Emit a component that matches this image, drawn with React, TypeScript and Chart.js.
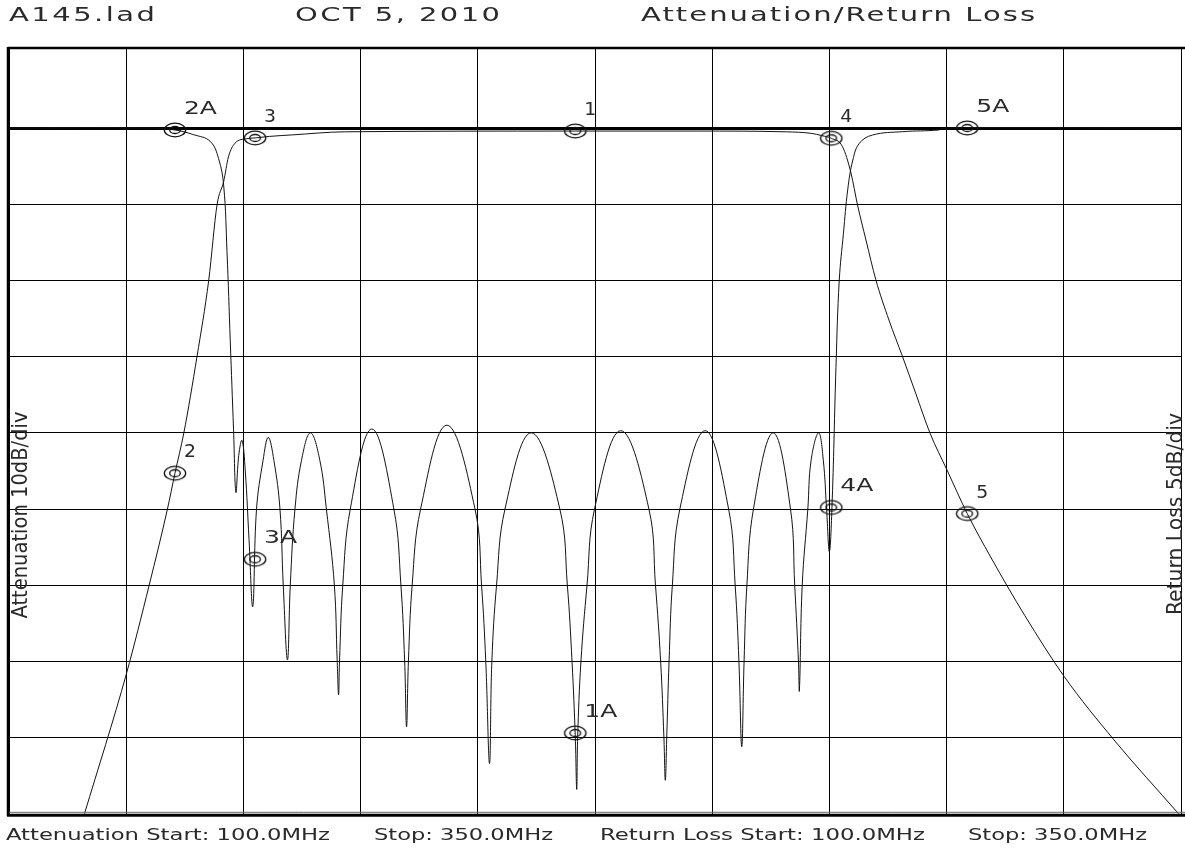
import React, { useEffect, useRef } from 'react';
import { Chart, registerables } from 'chart.js';

Chart.register(...registerables);

// ---------- data ----------
const xTicks = [100, 125, 150, 175, 200, 225, 250, 275, 300, 325, 350];
const rlTicks = [0, 5, 10, 15, 20, 25, 30, 35, 40];
const freqStart = 100;
const freqStop = 350;
const rlMin = -5.25;
const rlMax = 45;
const attMin = -10.5;
const attMax = 90;

// Return loss trace (MHz, dB)
const rlFreqs = [
  100, 129.8, 135.4, 139.4, 142.9, 144.7, 145.8, 146.5, 147.2, 147.9, 148.4, 149.0, 149.7, 150.4, 151.2, 152.0,
  152.8, 154.2, 155.3, 156.5, 157.8, 158.5, 159.4, 160.0, 161.0, 162.4, 164.3, 166.3, 167.7, 169.4, 170.0, 170.3,
  170.5, 171.2, 172.8, 177.4, 182.1, 183.6, 184.4, 184.8, 185.2, 186.0, 187.8, 193.4, 199.4, 200.8, 201.7, 202.5,
  203.0, 204.0, 205.8, 211.4, 217.5, 219.1, 220.1, 220.8, 221.1, 221.3, 222.0, 223.3, 224.9, 230.5, 236.5, 237.9,
  239.0, 239.7, 240.0, 240.3, 240.8, 241.5, 243.1, 248.5, 253.5, 254.9, 255.7, 256.3, 256.8, 257.4, 258.8, 263.0,
  266.7, 267.6, 268.4, 268.6, 269.2, 270.4, 271.1, 272.7, 273.7, 274.4, 275.0, 275.6, 276.4, 277.1, 278.0, 278.9,
  280.0, 281.4, 284.2, 290.6, 298.3, 299.3, 350,
];
const rlValues = [
  0, 0, 0.13, 0.44, 0.87, 2.0, 3.8, 8.1, 14, 19.8, 23.9, 21.5, 20.5, 22.5, 27, 31.4,
  25, 21.8, 20.3, 21.8, 25, 30, 34.9, 30, 25, 21.8, 20.0, 21.8, 25, 30, 34.9, 37.2,
  35, 30, 25, 19.75, 25, 30, 35, 39.3, 35, 30, 25, 19.5, 25, 30, 35, 41.7,
  35, 30, 25, 20.0, 25, 30, 35, 40, 43.4, 40, 35, 30, 25, 19.86, 25, 30,
  35, 40, 42.8, 40, 35, 30, 25, 19.86, 25, 30, 35, 40.6, 35, 30, 25, 20.0,
  25, 30, 35, 36.9, 30, 25, 21.8, 20.0, 21.8, 25, 27.8, 24.4, 15.7, 10, 6.9, 4.07,
  2.1, 1.0, 0.46, 0.24, 0.13, 0, 0,
];

// Attenuation trace (MHz, dB)
const attFreqs = [
  116.1, 125.1, 129.9, 133.8, 135.4, 137.3, 140.1, 142.6, 144.4, 145.8, 146.8, 148.2, 150.7, 152.5, 155.6, 160.5,
  171.5, 220.8, 246.8, 265.8, 271.1, 273.4, 275.4, 277.8, 279.6, 281.0, 282.8, 284.9, 287.7, 290.6, 293.4, 296.5,
  300.1, 304.4, 309.4, 316.7, 325.1, 335.7, 349.5,
];
const attValues = [
  90, 71.5, 60, 50, 45.3, 40, 30, 20, 10, 7, 3.8, 2.0, 1.4, 1.3, 1.1, 0.9,
  0.5, 0.4, 0.4, 0.5, 0.7, 1.0, 1.35, 2.45, 5.9, 10.1, 14.7, 19.9, 25.2, 30, 34.8, 40.1,
  44.9, 50.6, 56.3, 64, 72, 80.3, 90,
];

// Markers
const markerFreqs = [220.8, 135.4, 152.5, 275.4, 304.4];
const attMarkerValues = [0.4, 45.3, 1.3, 1.35, 50.6];
const rlMarkerValues = [39.7, 0.13, 28.3, 24.9, 0];
const attMarkerLabels = ['1', '2', '3', '4', '5'];
const rlMarkerLabels = ['1A', '2A', '3A', '4A', '5A'];

// Texts
const headerTexts = ['A145.lad', 'OCT 5, 2010', 'Attenuation/Return Loss'];
const footerTexts = ['Attenuation Start: 100.0MHz', 'Stop: 350.0MHz', 'Return Loss Start: 100.0MHz', 'Stop: 350.0MHz'];
const leftAxisTitle = 'Attenuation 10dB/div';
const rightAxisTitle = 'Return Loss 5dB/div';

// ---------- drawing helpers ----------
const TEXT_FONT = '"DejaVu Sans", "Liberation Sans", sans-serif';
const AXIS_FONT = '"DejaVu Sans Condensed", "Liberation Sans Narrow", "DejaVu Sans", sans-serif';
const INK = '#141414';
const TEXT_INK = '#2a2a2a';

function drawFit(
  ctx: CanvasRenderingContext2D,
  text: string,
  x: number,
  y: number,
  width: number,
  size: number,
  family: string,
  rot = 0,
  centered = false,
  maxScale = 1.4,
  minScale = 0.85
) {
  ctx.save();
  ctx.font = `${size}px ${family}`;
  (ctx as any).letterSpacing = '0px';
  const w = ctx.measureText(text).width;
  const n = Math.max(text.length - 1, 1);
  const s = Math.min(Math.max(width / w, minScale), maxScale);
  const spacing = (width / s - w) / n;
  ctx.translate(x, y);
  if (rot) ctx.rotate(rot);
  ctx.scale(s, 1);
  (ctx as any).letterSpacing = `${spacing.toFixed(2)}px`;
  ctx.textAlign = 'left';
  ctx.textBaseline = 'alphabetic';
  ctx.fillText(text, centered ? -width / s / 2 : 0, 0);
  ctx.restore();
}

function makeMarker(): HTMLCanvasElement {
  const c = document.createElement('canvas');
  c.width = 26;
  c.height = 18;
  const g = c.getContext('2d')!;
  g.strokeStyle = '#111';
  g.lineWidth = 1.3;
  g.beginPath();
  g.ellipse(13, 9, 10.7, 6.8, 0, 0, Math.PI * 2);
  g.stroke();
  g.beginPath();
  g.ellipse(13, 9, 5.3, 3.5, 0, 0, Math.PI * 2);
  g.stroke();
  return c;
}

const framePlugin = {
  id: 'plotFrame',
  afterDraw(chart: any) {
    const { ctx, chartArea: a } = chart;
    ctx.save();
    ctx.strokeStyle = '#000';
    ctx.lineWidth = 2.5;
    ctx.beginPath();
    ctx.moveTo(a.left - 1, a.top);
    ctx.lineTo(a.right + 5, a.top);
    ctx.moveTo(a.left - 1, a.top - 1);
    ctx.lineTo(a.left - 1, a.bottom + 2);
    ctx.stroke();
    ctx.lineWidth = 1;
    ctx.strokeStyle = '#666';
    ctx.beginPath();
    ctx.moveTo(a.left, a.bottom - 1.5);
    ctx.lineTo(a.right + 5, a.bottom - 1.5);
    ctx.stroke();
    ctx.lineWidth = 3;
    ctx.strokeStyle = '#000';
    ctx.beginPath();
    ctx.moveTo(a.left - 2, a.bottom + 1.5);
    ctx.lineTo(a.right + 5, a.bottom + 1.5);
    ctx.stroke();
    ctx.restore();
  },
};

const textPlugin = {
  id: 'plotterText',
  afterDraw(chart: any) {
    const ctx: CanvasRenderingContext2D = chart.ctx;
    ctx.save();
    ctx.fillStyle = TEXT_INK;
    const hdr = [
      [9, 146],
      [295, 205],
      [641, 394],
    ];
    headerTexts.forEach((t, i) => drawFit(ctx, t, hdr[i][0], 21, hdr[i][1], 20, TEXT_FONT, 0, false, 1.45));
    const ftr = [
      [6, 324],
      [374, 179],
      [600, 325],
      [968, 179],
    ];
    footerTexts.forEach((t, i) => drawFit(ctx, t, ftr[i][0], 840, ftr[i][1], 16, TEXT_FONT, 0, false, 1.45));
    drawFit(ctx, leftAxisTitle, 27, 515, 207, 21, AXIS_FONT, -Math.PI / 2, true, 1.3, 0.7);
    drawFit(ctx, rightAxisTitle, 1182, 514, 202, 21, AXIS_FONT, -Math.PI / 2, true, 1.3, 0.7);

    // marker labels
    const sets: [number, string[]][] = [
      [2, attMarkerLabels],
      [3, rlMarkerLabels],
    ];
    sets.forEach(([di, labels]) => {
      const meta = chart.getDatasetMeta(di);
      meta.data.forEach((pt: any, i: number) => {
        const t = labels[i];
        drawFit(ctx, t, pt.x + 9, pt.y - 16, t.length === 1 ? 12 : 33, 17, TEXT_FONT, 0, false, 1.5);
      });
    });
    ctx.restore();
  },
};

export default function App() {
  const ref = useRef<HTMLCanvasElement>(null);

  useEffect(() => {
    document.body.style.margin = '0';
    document.body.style.overflow = 'hidden';
    const marker = makeMarker();
    const toXY = (fs: number[], vs: number[]) => fs.map((f, i) => ({ x: f, y: vs[i] }));

    const chart = new Chart(ref.current!, {
      type: 'line',
      data: {
        datasets: [
          {
            label: 'Return Loss',
            data: toXY(rlFreqs, rlValues),
            yAxisID: 'yRL',
            borderColor: INK,
            borderWidth: 1,
            pointRadius: 0,
            tension: 0.4,
            fill: false,
          },
          {
            label: 'Attenuation',
            data: toXY(attFreqs, attValues),
            yAxisID: 'yAtt',
            borderColor: INK,
            borderWidth: 1,
            pointRadius: 0,
            cubicInterpolationMode: 'monotone',
            fill: false,
          },
          {
            label: 'Attenuation markers',
            data: toXY(markerFreqs, attMarkerValues),
            yAxisID: 'yAtt',
            showLine: false,
            pointStyle: marker as any,
            pointRadius: 8,
          },
          {
            label: 'Return loss markers',
            data: toXY(markerFreqs, rlMarkerValues),
            yAxisID: 'yRL',
            showLine: false,
            pointStyle: marker as any,
            pointRadius: 8,
          },
        ],
      },
      options: {
        animation: false,
        responsive: false,
        devicePixelRatio: 1,
        events: [],
        layout: { padding: { left: 7.3, top: 48, right: 2.7, bottom: 34.2 } },
        plugins: {
          legend: { display: false },
          tooltip: { enabled: false },
          title: { display: false },
        },
        scales: {
          x: {
            type: 'linear',
            min: freqStart,
            max: freqStop,
            afterBuildTicks: (s: any) => {
              s.ticks = xTicks.map((v) => ({ value: v }));
            },
            afterFit: (s: any) => {
              s.height = 0;
            },
            grid: { color: '#000', lineWidth: 1, drawTicks: false },
            border: { display: false },
            ticks: { display: false },
          },
          yRL: {
            type: 'linear',
            position: 'right',
            reverse: true,
            min: rlMin,
            max: rlMax,
            afterBuildTicks: (s: any) => {
              s.ticks = rlTicks.map((v) => ({ value: v }));
            },
            afterFit: (s: any) => {
              s.width = 0;
            },
            grid: {
              color: '#000',
              lineWidth: (c: any) => (c.tick && c.tick.value === 0 ? 3 : 1),
              drawTicks: false,
            },
            border: { display: false },
            ticks: { display: false },
          },
          yAtt: {
            type: 'linear',
            position: 'left',
            reverse: true,
            min: attMin,
            max: attMax,
            afterFit: (s: any) => {
              s.width = 0;
            },
            grid: { display: false },
            border: { display: false },
            ticks: { display: false },
          },
        },
      } as any,
      plugins: [framePlugin, textPlugin],
    });
    return () => chart.destroy();
  }, []);

  return (
    <div
      style={{
        position: 'absolute',
        left: 0,
        top: 0,
        width: 1185,
        height: 848,
        overflow: 'hidden',
        background: '#fff',
      }}
    >
      <canvas ref={ref} width={1190} height={848} style={{ display: 'block', width: 1190, height: 848 }} />
    </div>
  );
}
